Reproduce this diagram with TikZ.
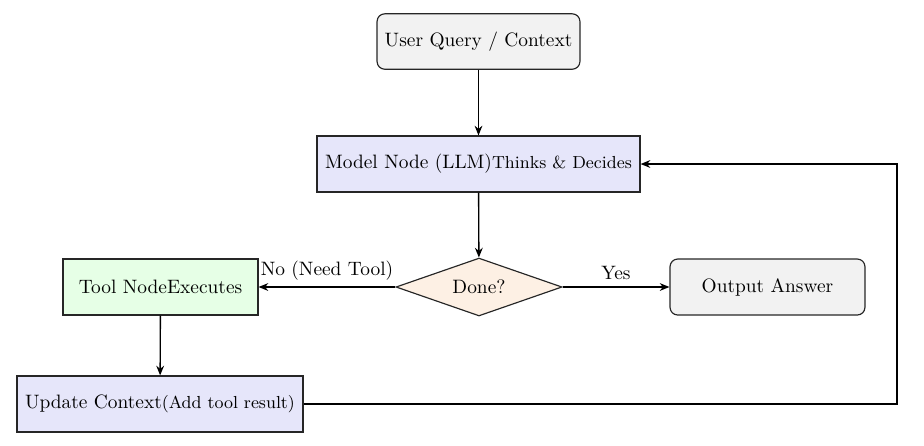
\documentclass[tikz,border=0pt]{standalone}
\usetikzlibrary{shapes.geometric,arrows.meta}
\definecolor{boxgray}{HTML}{F2F2F2}
\definecolor{boxblue}{HTML}{E6E6FA}
\definecolor{boxgreen}{HTML}{E6FFE6}
\definecolor{boxorange}{HTML}{FDF0E4}
\begin{document}
\begin{tikzpicture}[x=0.516pt,y=-0.516pt,
  base/.style={draw=black!85,line width=0.6pt,align=center,inner sep=2pt,font=\normalsize},
  rbox/.style={base,rounded corners=4pt,fill=boxgray,minimum height=28.6pt},
  pbox/.style={base,minimum height=28.9pt},
  dbox/.style={base,diamond,fill=boxorange,minimum width=85.7pt,minimum height=29.9pt,inner sep=0pt,aspect=2.9},
  conn/.style={line width=0.7pt,-{Stealth[length=5pt,width=4pt]}}]
\useasboundingbox (0,0) rectangle (924,445);
\node[rbox,minimum width=104.7pt] (user) at (478.5,41.5) {User Query / Context};
\node[pbox,fill=boxblue,minimum width=166.7pt] (model) at (478.5,164) {Model Node (LLM){\small Thinks \& Decides}};
\node[dbox] (done) at (479,287) {Done?};
\node[rbox,minimum width=100.6pt,minimum height=28.9pt] (out) at (767.5,287) {Output Answer};
\node[pbox,fill=boxgreen,minimum width=100.6pt] (tool) at (160.5,287) {Tool NodeExecutes};
\node[pbox,fill=boxblue,minimum width=147.6pt] (upd) at (160,404) {Update Context{\small(Add tool result)}};
\coordinate (corner1) at (897,404);
\coordinate (corner2) at (897,164);
\draw[conn] (user) -- (model);
\draw[conn] (model) -- (done);
\draw[conn] (done) -- node[above,pos=0.5] {Yes} (out);
\draw[conn] (done) -- node[above,pos=0.5] {No (Need Tool)} (tool);
\draw[conn] (tool) -- (upd);
\draw[conn] (upd.east) -- (corner1) -- (corner2) -- (model.east);
\end{tikzpicture}
\end{document}
